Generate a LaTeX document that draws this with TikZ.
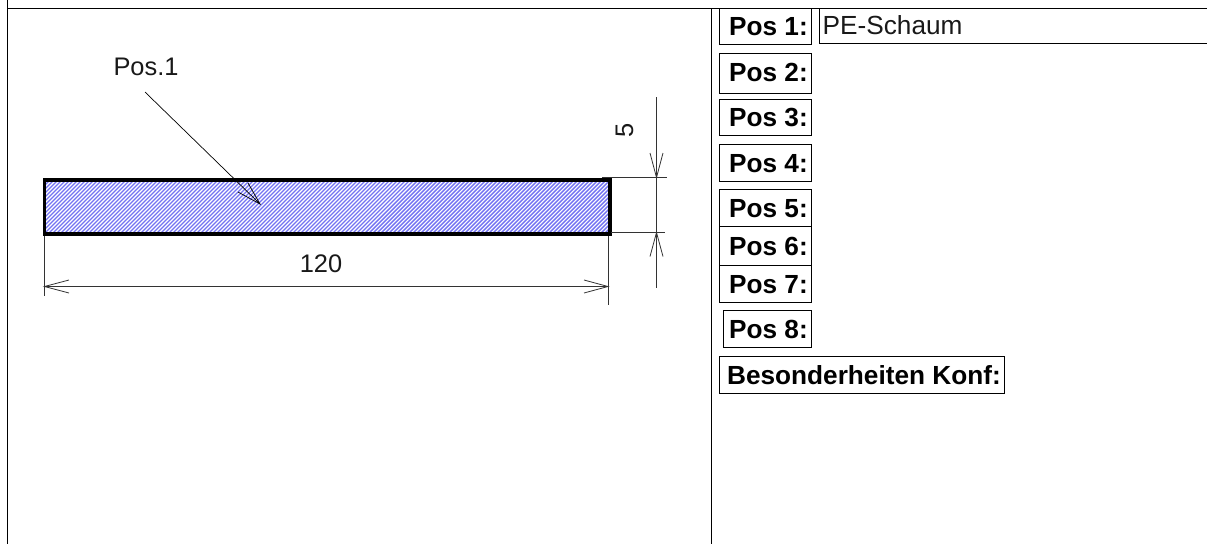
\documentclass[tikz,border=0pt]{standalone}
\usepackage{fontspec}
\setmainfont{Liberation Sans}
\definecolor{hatchblue}{HTML}{7272F2}
\tikzset{
  x=1pt,y=-1pt,
  frameline/.style={draw=black,line width=1pt},
  dimline/.style={draw=black!80,line width=0.8pt},
  posbox/.style={draw=black,line width=1pt,anchor=north west,inner sep=0pt,outer sep=0pt},
  postext/.style={anchor=base east,inner sep=0pt,font=\fontsize{26.2}{26.2}\selectfont\bfseries},
  plaintext/.style={inner sep=0pt,font=\fontsize{25.4}{25.4}\selectfont,text=black!90},
}
\newcommand{\posentry}[7]{%
  \node[posbox,minimum width=#3pt,minimum height=#4pt] (#5) at (#1,#2) {};
  \node[postext] (#5t) at ([xshift=-3.5pt,yshift=#7pt]#5.south east) {#6};
}
\begin{document}
\begin{tikzpicture}
\useasboundingbox (0,0) rectangle (1207,544);
\fill[white] (0,0) rectangle (1207,544);
% frame
\coordinate (ftl) at (7.5,8.5);
\draw[frameline] (7.5,0) -- (7.5,544);
\draw[frameline] (ftl) -- (1207,8.5);
\draw[frameline] (711.5,8.5) -- (711.5,544);
% foam section
\begin{scope}
  \clip (44.5,180) rectangle (610,234);
  \foreach \hx in {-20,-16,...,620} {
    \draw[hatchblue,line width=1.4pt] (\hx,238) -- (\hx+60,178);
  }
\end{scope}
\node[draw=black,line width=3.4pt,minimum width=565.5pt,minimum height=54pt,inner sep=0pt,outer sep=0pt,anchor=north west] (bar) at (44.5,180) {};
% dimension 120
\coordinate (dl1) at (44.5,296);
\coordinate (dr1) at (608,305);
\coordinate (da) at (44.5,286.5);
\coordinate (db) at (608,286.5);
\draw[dimline] (44.5,236) -- (dl1);
\draw[dimline] (608,236) -- (dr1);
\draw[dimline] (da) -- (db);
\draw[dimline] (69,280) -- (da) -- (69,293);
\draw[dimline] (584,280) -- (db) -- (584,293);
\node[plaintext] (t120) at (321,264) {120};
% dimension 5
\coordinate (vt) at (656.5,97);
\coordinate (va) at (656.5,177.5);
\coordinate (vb) at (656.5,232.5);
\coordinate (vc) at (656.5,288);
\draw[dimline] (602,177.5) -- (667,177.5);
\draw[dimline] (611,232.5) -- (664.5,232.5);
\draw[dimline] (vt) -- (vc);
\draw[dimline] (650,153) -- (va) -- (663,153);
\draw[dimline] (650,256.5) -- (vb) -- (663,256.5);
\node[plaintext,rotate=90] (t5) at (624.5,130) {5};
% leader
\node[plaintext] (tpos) at (146,67) {Pos.1};
\coordinate (ls) at (145,92);
\coordinate (le) at (260,204);
\draw[draw=black,line width=0.7pt] (ls) -- (le);
\draw[draw=black,line width=0.7pt] (248,183) -- (le) -- (238,192);
% table
\posentry{719.5}{8.5}{92}{36}{p1}{Pos 1:}{9}
\posentry{719.5}{53.5}{92}{39.5}{p2}{Pos 2:}{11.3}
\posentry{719.5}{99}{92}{36.5}{p3}{Pos 3:}{8.8}
\posentry{719.5}{144.5}{92}{36.5}{p4}{Pos 4:}{8.3}
\posentry{719.5}{189.5}{92}{36.5}{p5}{Pos 5:}{8.7}
\posentry{719.5}{226}{92}{39}{p6}{Pos 6:}{10}
\posentry{719.5}{265}{92}{37}{p7}{Pos 7:}{8.7}
\posentry{723}{310.5}{88.5}{36.5}{p8}{Pos 8:}{8.7}
\node[posbox,minimum width=285pt,minimum height=37pt] (bk) at (719.5,356) {};
\node[postext] (bkt) at ([xshift=-3.5pt,yshift=9pt]bk.south east) {Besonderheiten Konf:};
% PE-Schaum open box
\coordinate (pa) at (1207,8.5);
\coordinate (pb) at (819.5,8.5);
\coordinate (pc) at (819.5,43);
\coordinate (pd) at (1207,43);
\draw[frameline] (pa) -- (pb) -- (pc) -- (pd);
\node[inner sep=0pt,font=\fontsize{26.2}{26.2}\selectfont,text=black!90,anchor=base west] (pe) at (822.5,34) {PE-Schaum};
\end{tikzpicture}
\end{document}
